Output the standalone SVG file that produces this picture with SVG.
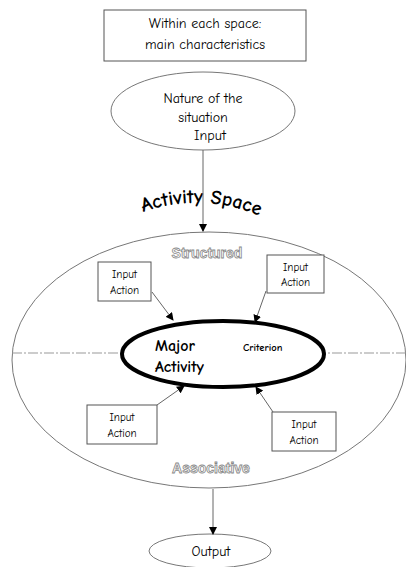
<svg xmlns="http://www.w3.org/2000/svg" width="406" height="567" viewBox="0 0 406 567">
<style>
.t{font-family:"Comic Neue","DejaVu Sans","Liberation Sans",sans-serif;fill:#000}
.box{fill:#fff;stroke:#555;stroke-width:1}
.thin{fill:none;stroke:#777;stroke-width:1}
.con{stroke:#666;stroke-width:1;fill:none}
.outl{font-family:"Liberation Sans Narrow","Liberation Sans",sans-serif;font-weight:bold;fill:#fff;stroke:#888;stroke-width:0.8}
.ia{font-size:11px}
</style>
<defs>
<marker id="ah" markerWidth="8" markerHeight="8" refX="7" refY="4" orient="auto" markerUnits="userSpaceOnUse">
<path d="M0,0 L8,4 L0,8 Z" fill="#000"/>
</marker>
<path id="arc" d="M138,214 Q202,190 264,218"/>
</defs>
<rect width="406" height="567" fill="#fff"/>
<g id="space">
<ellipse cx="209" cy="360" rx="197" ry="128" class="thin"/>
<line x1="12" y1="353" x2="406" y2="353" stroke="#999" stroke-width="1" stroke-dasharray="10,2,2,2"/>
<text x="207" y="258" class="outl" font-size="14" text-anchor="middle">Structured</text>
<text x="211" y="473" class="outl" font-size="14" text-anchor="middle">Associative</text>
</g>
<g id="title">
<text class="t" font-size="20" font-weight="bold"><textPath href="#arc" startOffset="50%" text-anchor="middle">Activity Space</textPath></text>
</g>
<g id="header">
<rect x="104" y="10" width="202" height="51" class="box"/>
<text x="205" y="28" class="t" font-size="14" text-anchor="middle">Within each space:</text>
<text x="205" y="49" class="t" font-size="14" text-anchor="middle">main characteristics</text>
</g>
<g id="input">
<ellipse cx="203" cy="111" rx="92" ry="39" class="thin"/>
<text x="203" y="103" class="t" font-size="14" text-anchor="middle">Nature of the</text>
<text x="203" y="122" class="t" font-size="14" text-anchor="middle">situation</text>
<text x="210" y="140" class="t" font-size="14" text-anchor="middle">Input</text>
</g>
<g id="major">
<ellipse cx="223" cy="354" rx="101" ry="33" fill="#fff" stroke="#000" stroke-width="4"/>
<text x="155" y="351" class="t" font-size="16" font-weight="bold">Major</text>
<text x="155" y="372" class="t" font-size="16" font-weight="bold">Activity</text>
<text x="243" y="351" class="t" font-size="10.5" font-weight="bold">Criterion</text>
</g>
<g id="ia1">
<rect x="98" y="262" width="53" height="39" class="box"/>
<text x="124.5" y="278" class="t ia" text-anchor="middle">Input</text>
<text x="124.5" y="294" class="t ia" text-anchor="middle">Action</text>
</g>
<g id="ia2">
<rect x="267" y="255" width="57" height="38" class="box"/>
<text x="295.5" y="271" class="t ia" text-anchor="middle">Input</text>
<text x="295.5" y="286" class="t ia" text-anchor="middle">Action</text>
</g>
<g id="ia3">
<rect x="87" y="405" width="70" height="39" class="box"/>
<text x="122" y="421" class="t ia" text-anchor="middle">Input</text>
<text x="122" y="437" class="t ia" text-anchor="middle">Action</text>
</g>
<g id="ia4">
<rect x="272" y="412" width="64" height="39" class="box"/>
<text x="304" y="428" class="t ia" text-anchor="middle">Input</text>
<text x="304" y="444" class="t ia" text-anchor="middle">Action</text>
</g>
<g id="output">
<ellipse cx="210" cy="551" rx="61" ry="17" class="thin"/>
<text x="211" y="556" class="t" font-size="14" text-anchor="middle">Output</text>
</g>
<g id="connectors">
<line x1="203" y1="150" x2="203" y2="231" class="con" marker-end="url(#ah)"/>
<line x1="152" y1="292" x2="173" y2="320" class="con" marker-end="url(#ah)"/>
<line x1="266" y1="291" x2="255" y2="322" class="con" marker-end="url(#ah)"/>
<line x1="157" y1="405" x2="184" y2="386" class="con" marker-end="url(#ah)"/>
<line x1="273" y1="412" x2="256" y2="387" class="con" marker-end="url(#ah)"/>
<line x1="213" y1="489" x2="213" y2="534" class="con" marker-end="url(#ah)"/>
</g>
</svg>
